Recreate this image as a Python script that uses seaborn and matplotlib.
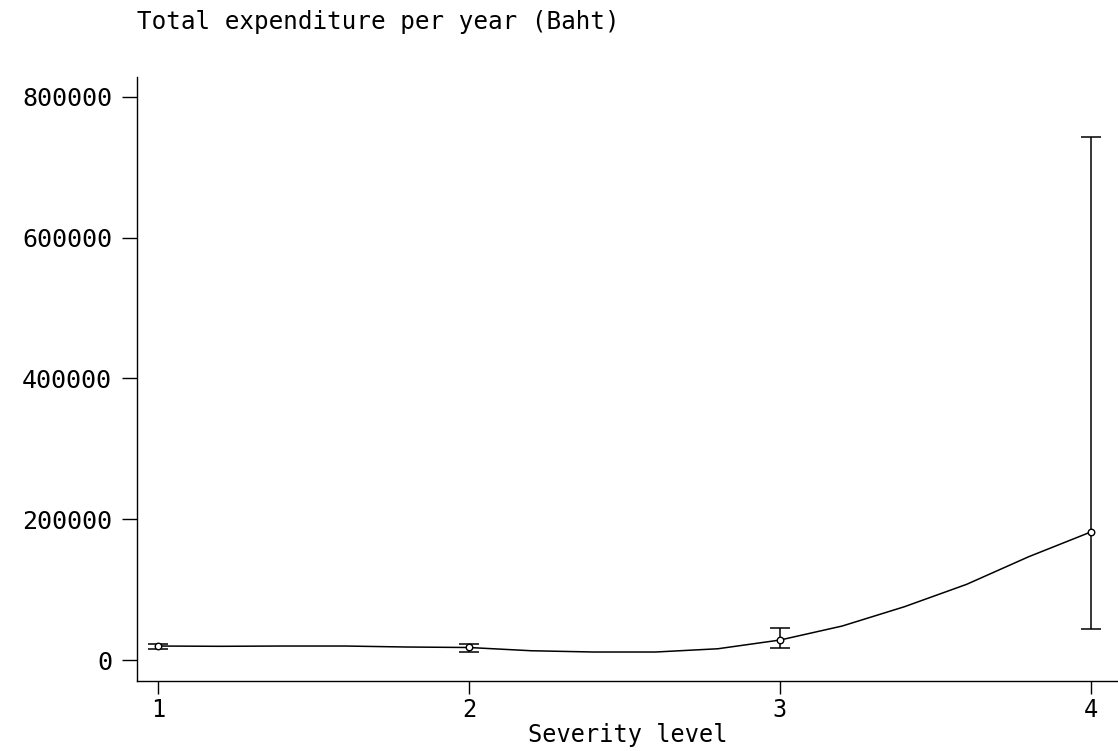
import matplotlib
matplotlib.use("Agg")
import matplotlib.pyplot as plt
import seaborn as sns
import numpy as np

# Data
severity = [1, 2, 3, 4]
mean_exp = [19900, 18000, 28400, 182000]
lower_ci = [16000, 11800, 17500, 44000]
upper_ci = [22700, 22700, 45000, 743600]

# Smoothed curve vertices
curve_x = [1.0, 1.2, 1.4, 1.6, 1.8, 2.0, 2.2, 2.4, 2.6, 2.8, 3.0, 3.2, 3.4, 3.6, 3.8, 4.0]
curve_y = [19900, 19500, 19900, 19900, 18500, 17800, 13200, 11400, 11400, 16000,
           28400, 48300, 75700, 107500, 146800, 182000]

yticks = [0, 200000, 400000, 600000, 800000]
ytick_labels = ["0", "200000", "400000", "600000", "800000"]
xticks = [1, 2, 3, 4]
xtick_labels = ["1", "2", "3", "4"]

sns.set_style("white")
plt.rcParams['font.family'] = ['DejaVu Sans Mono', 'DejaVu Sans']

fig = plt.figure(figsize=(11.18, 7.51), dpi=100)
ax = fig.add_axes([0.1225, 0.0932, 0.8775, 0.8043])

sns.lineplot(x=curve_x, y=curve_y, ax=ax, color="black", linewidth=1.1,
             estimator=None, sort=False)

err_lo = np.array(mean_exp) - np.array(lower_ci)
err_hi = np.array(upper_ci) - np.array(mean_exp)
ax.errorbar(severity, mean_exp, yerr=[err_lo, err_hi], fmt="none",
            ecolor="black", elinewidth=1.1, capsize=7, capthick=1.1)
sns.scatterplot(x=severity, y=mean_exp, ax=ax, marker="o", s=22,
                facecolor="white", edgecolor="black", linewidth=1.0, zorder=5)

ax.set_xlim(0.9325, 4.087)
ax.set_ylim(-29800, 828400)
ax.set_xticks(xticks)
ax.set_xticklabels(xtick_labels)
ax.set_yticks(yticks)
ax.set_yticklabels(ytick_labels)

for s in ["top", "right"]:
    ax.spines[s].set_visible(False)
for s in ["left", "bottom"]:
    ax.spines[s].set_color("black")
    ax.spines[s].set_linewidth(1.0)

ax.tick_params(axis="y", direction="out", length=11, width=1.0, color="black",
               labelsize=18, labelcolor="black", pad=7, left=True)
ax.tick_params(axis="x", direction="out", length=9, width=1.0, color="black",
               labelsize=17, labelcolor="black", pad=3, bottom=True)

ax.set_xlabel("Severity level", fontsize=17, labelpad=1, color="black")
ax.set_ylabel("")
fig.text(137 / 1118, 1 - 22 / 751, "Total expenditure per year (Baht)",
         fontsize=17.5, ha="left", va="center", color="black")

fig.savefig("out.png", dpi=100)
